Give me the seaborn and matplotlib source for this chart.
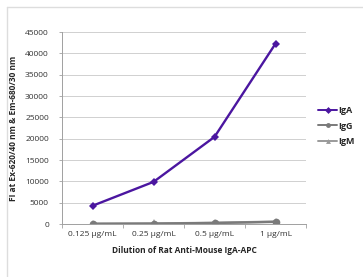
"""Fluorescence intensity vs dilution of Rat Anti-Mouse IgA-APC."""

import matplotlib.pyplot as plt
import pandas as pd
import seaborn as sns
from matplotlib.lines import Line2D

dilutions = ["0.125 µg/mL", "0.25 µg/mL", "0.5 µg/mL", "1 µg/mL"]
iga = [4300, 9900, 20450, 42300]
igg = [60, 110, 260, 520]
igm = [90, 140, 300, 580]

series = {"IgA": iga, "IgG": igg, "IgM": igm}
colors = {"IgA": "#4b16a0", "IgG": "#7a7a7a", "IgM": "#9a9a9a"}
markers = {"IgA": "D", "IgG": "o", "IgM": "^"}

rows = []
for name, vals in series.items():
    for i, v in enumerate(vals):
        rows.append({"pos": i, "dilution": dilutions[i], "fi": v, "isotype": name})
df = pd.DataFrame(rows)

sns.set_style("white")
plt.rcParams["font.family"] = ["Open Sans", "DejaVu Sans"]

fig = plt.figure(figsize=(3.63, 2.77), dpi=100)
ax = fig.add_axes([0.171, 0.191, 0.672, 0.693])

# draw in reverse so IgA sits on top
for name in ["IgM", "IgG", "IgA"]:
    sub = df[df["isotype"] == name]
    sns.lineplot(
        data=sub, x="pos", y="fi", color=colors[name], marker=markers[name],
        markersize=4 if name == "IgA" else 5.5, markeredgewidth=0,
        linewidth=1.7, ax=ax, legend=False,
    )

ax.set_xlim(-0.5, 3.5)
ax.set_ylim(0, 45000)
ax.set_yticks(range(0, 45001, 5000))
ax.set_xticks(range(len(dilutions)))
ax.set_xticklabels(dilutions)
ax.set_xticks([-0.5, 0.5, 1.5, 2.5, 3.5], minor=True)
ax.yaxis.grid(True, color="#d0d0d0", linewidth=0.7)
ax.set_axisbelow(True)

for side in ["top", "right"]:
    ax.spines[side].set_visible(False)
ax.spines["left"].set_color("#a0a0a0")
ax.spines["bottom"].set_color("#a0a0a0")
ax.spines["left"].set_linewidth(0.7)
ax.spines["bottom"].set_linewidth(0.7)

ax.tick_params(axis="y", labelsize=6, labelcolor="#333333", length=2.5,
               width=0.6, left=True, direction="out", pad=7, color="#a0a0a0")
ax.tick_params(axis="x", which="major", labelsize=6, labelcolor="#333333",
               length=0, pad=5)
ax.tick_params(axis="x", which="minor", length=3, width=0.6, color="#a0a0a0",
               bottom=True)

ax.set_xlabel("Dilution of Rat Anti-Mouse IgA-APC", fontsize=6,
              fontweight="bold", labelpad=6)
ax.set_ylabel("FI at Ex-620/40 nm & Em-680/30 nm", fontsize=6,
              fontweight="bold", labelpad=5)

handles = [
    Line2D([], [], color=colors[n], marker=markers[n], markersize=3.5,
           markeredgewidth=0, linewidth=1.4)
    for n in series
]
fig.legend(handles, list(series), loc="center left",
           bbox_to_anchor=(0.855, 0.545), frameon=False,
           handlelength=2.0, handletextpad=0.2, labelspacing=0.75,
           prop={"weight": "bold", "size": 6.5})

# light frame around the chart
fig.add_artist(Line2D([7 / 363, 1.0], [1 - 7 / 277, 1 - 7 / 277],
                      transform=fig.transFigure, color="#dddddd", linewidth=1))
fig.add_artist(Line2D([7 / 363, 7 / 363], [0, 1 - 7 / 277],
                      transform=fig.transFigure, color="#dddddd", linewidth=1))

fig.savefig("out.png", dpi=100)
